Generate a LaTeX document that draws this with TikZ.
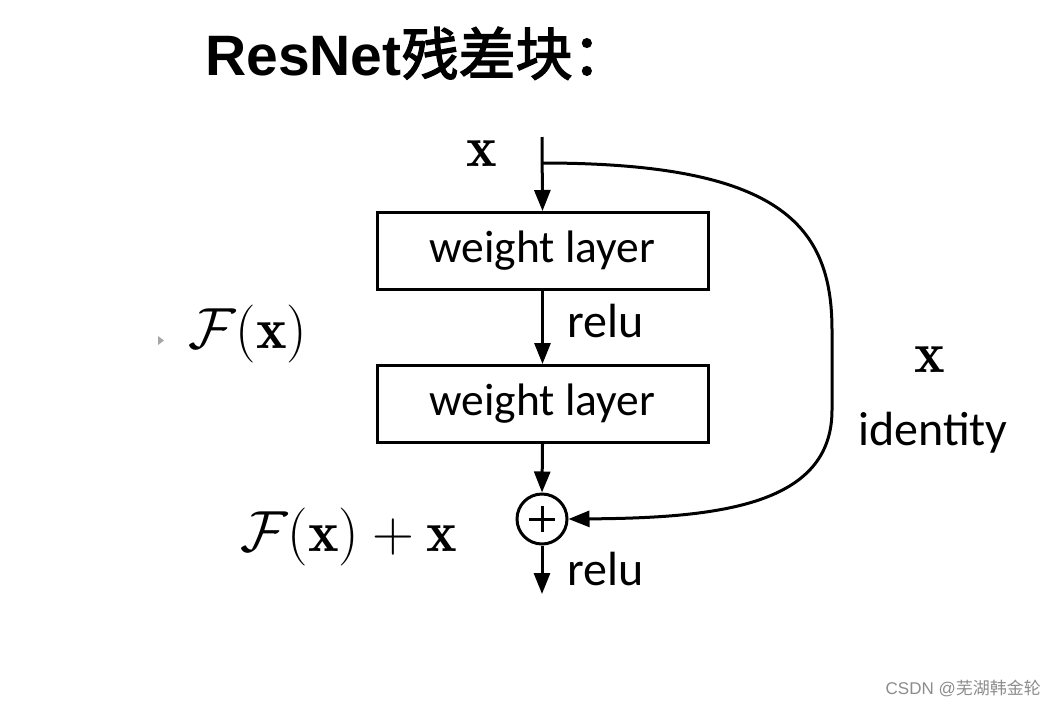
\RequirePackage{fix-cm}
\documentclass[tikz,border=0pt]{standalone}
\usepackage{fontspec}
\usepackage{amsmath}
\usetikzlibrary{arrows.meta}
\newfontfamily\titlefont{Liberation Sans}
\newfontfamily\cjk{Noto Sans CJK SC}[AutoFakeBold=2.5]
\newfontfamily\cjkthin{Noto Sans CJK SC}
\newfontfamily\labelfont{Carlito}
\definecolor{markgray}{HTML}{8C8C8C}
\tikzset{
  arr/.style={line width=3pt,-{Triangle[length=21pt,width=16pt]}},
  wbox/.style={draw,line width=3pt,minimum width=331pt,minimum height=77pt,inner sep=0pt,
               font=\labelfont\fontsize{45.5}{50}\selectfont},
  lbl/.style={font=\labelfont\fontsize{48}{52}\selectfont,inner sep=0pt},
  mlbl/.style={font=\fontsize{58}{66}\selectfont,inner sep=0pt},
}
\begin{document}
\begin{tikzpicture}[x=1pt,y=-1pt]
\useasboundingbox (0,0) rectangle (1057,705);
% title
\node[anchor=base west,inner sep=0pt,font=\fontsize{57}{62}\selectfont] (title) at (205,75)
  {\titlefont\bfseries ResNet\cjk\bfseries 残差块：};
% layers
\node[wbox] (w1) at (542.5,251) {weight layer};
\node[wbox] (w2) at (542.5,404) {weight layer};
\node[circle,draw,line width=3pt,minimum size=50pt,inner sep=0pt] (add) at (542,519) {};
\draw[line width=3pt] ([xshift=-13pt]add.center) -- ([xshift=13pt]add.center)
                      ([yshift=-13pt]add.center) -- ([yshift=13pt]add.center);
\coordinate (in) at (542,137);
\coordinate (split) at (542,163);
\coordinate (out) at (542,594);
% main path
\draw[arr] (in) -- (w1.north);
\draw[arr] (w1.south) -- (w2.north);
\draw[arr] (w2.south) -- (add.north);
\draw[arr] (add.south) -- (out);
% identity shortcut
\draw[arr] (split) .. controls (780,163) and (832,225) .. (832,330) -- (832,410)
  .. controls (832,505) and (720,518) .. (add.east);
% labels
\node[mlbl,anchor=base] (xin) at (482,166) {$\mathbf{x}$};
\node[lbl,anchor=base west] (relu1) at (567,337) {relu};
\node[lbl,anchor=base west] (relu2) at (567,585) {relu};
\node[mlbl,anchor=base west] (fx) at (188,348) {$\mathcal{F}(\mathbf{x})$};
\node[mlbl,anchor=base west] (fxx) at (240,551) {$\mathcal{F}(\mathbf{x})+\mathbf{x}$};
\node[mlbl,anchor=base] (xid) at (930,372) {$\mathbf{x}$};
\node[lbl,anchor=base west] (ident) at (858,445) {identity};
% small marker
\fill[gray!70] (158,336) -- (164,340.5) -- (158,345) -- cycle;
% watermark
\node[anchor=base east,inner sep=0pt,text=markgray,font=\fontsize{17}{20}\selectfont] (mark) at (1041,694)
  {\titlefont CSDN @\cjkthin 芜湖韩金轮};
\end{tikzpicture}
\end{document}
